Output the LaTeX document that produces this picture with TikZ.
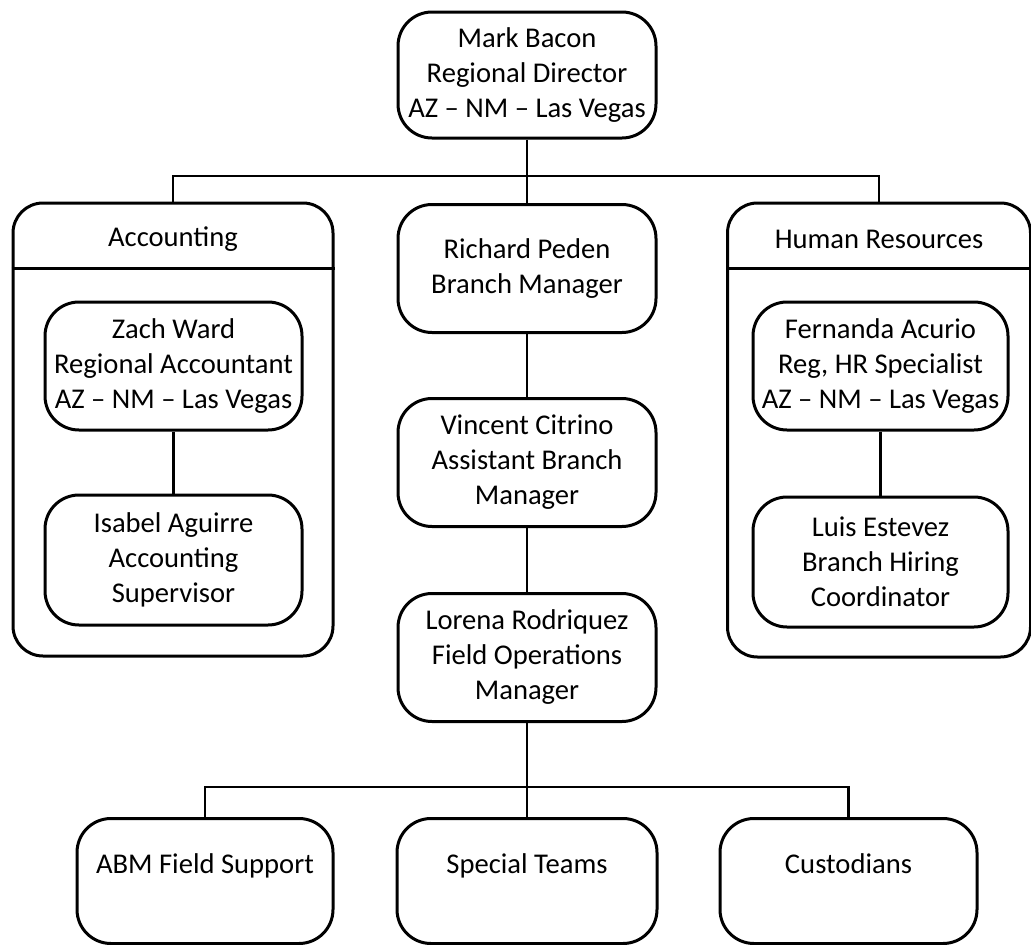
\documentclass[tikz,border=0pt]{standalone}
\usepackage{fontspec}
\setmainfont{Carlito}
\begin{document}
\begin{tikzpicture}[x=1pt,y=-1pt,
  every node/.style={font=\fontsize{28.6}{35}\selectfont, align=center, inner sep=0pt},
  box/.style={draw, line width=3pt, rounded corners=34pt, minimum width=258pt, minimum height=128pt,
    execute at begin node={\rule{0pt}{27pt}}},
  grp/.style={draw, line width=3pt, rounded corners=30pt},
  link/.style={line width=2.6pt},
  sep/.style={line width=3pt}]
\useasboundingbox (0,0) rectangle (1031,945);
% containers
\node[grp, minimum width=320pt, minimum height=453pt] (acc) at (173,429.5) {};
\node[grp, minimum width=303pt, minimum height=454pt] (hr) at (879,430) {};
\draw[sep] (acc.west |- 0,268) -- (acc.east |- 0,268);
\draw[sep] (hr.west |- 0,268) -- (hr.east |- 0,268);
\node (acct) at (173,239) {Accounting};
\node (hrt) at (879,239) {Human Resources};
% central column
\node[box, minimum height=126pt] (top) at (527,75) {Mark Bacon\\Regional Director\\AZ -- NM -- Las Vegas};
\node[box] (rich) at (527,268.5) {Richard Peden\\Branch Manager};
\node[box] (vinc) at (527,462.5) {Vincent Citrino\\Assistant Branch\\Manager};
\node[box] (lor) at (527,657.5) {Lorena Rodriquez\\Field Operations\\Manager};
% side boxes
\node[box, minimum width=257pt] (zach) at (173.5,366) {Zach Ward\\Regional Accountant\\AZ -- NM -- Las Vegas};
\node[box, minimum width=257pt, minimum height=130pt] (isa) at (173.5,560) {Isabel Aguirre\\Accounting\\Supervisor};
\node[box, minimum width=255pt] (fer) at (880.5,366) {Fernanda Acurio\\Reg, HR Specialist\\AZ -- NM -- Las Vegas};
\node[box, minimum width=255pt, minimum height=130pt] (luis) at (880.5,562) {Luis Estevez\\Branch Hiring\\Coordinator};
% bottom boxes
\node[box, minimum width=256pt, minimum height=125pt] (abm) at (205,881) {ABM Field Support\\\mbox{}};
\node[box, minimum width=260pt, minimum height=125pt] (spec) at (527,881) {Special Teams\\\mbox{}};
\node[box, minimum width=257pt, minimum height=125pt] (cust) at (848.5,881) {Custodians\\\mbox{}};
% connectors
\coordinate (busA) at (527,176);
\coordinate (busB) at (527,787);
\draw[link] (top.south) -- (rich.north);
\draw[link] (acc.north) |- (busA) -| (hr.north);
\draw[link] (rich.south) -- (vinc.north);
\draw[link] (vinc.south) -- (lor.north);
\draw[link] (zach.south) -- (isa.north);
\draw[link] (fer.south) -- (luis.north);
\draw[link] (lor.south) -- (spec.north);
\draw[link] (abm.north) |- (busB) -| (cust.north);
\end{tikzpicture}
\end{document}
